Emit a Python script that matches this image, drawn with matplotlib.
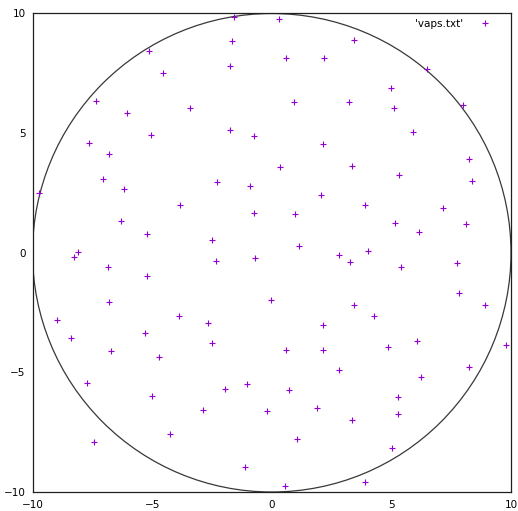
import numpy as np
import matplotlib
matplotlib.use("Agg")
import matplotlib.pyplot as plt
from matplotlib.patches import Circle

# eigenvalue positions (real part, imaginary part)
re_vals = [
    -5.13, -4.54, -7.35, -6.05, -3.42, -5.04, -7.64, -6.80, -1.58, 0.30,
    -1.66, 3.44, 0.59, 2.19, -1.74, 0.93, 3.23, -1.74, -0.74, 2.14,
    0.34, 3.35, 6.49, 4.99, 8.00, 5.11, 5.90, 8.25, 5.32, -7.05,
    -6.18, -9.73, -3.84, -6.30, -5.21, -8.10, -8.26, -6.85, -5.21, -6.80,
    -8.97, -3.88, -5.29, -2.28, -0.91, 2.06, -0.74, 0.97, -2.50, 1.13,
    2.81, 3.27, -2.33, -0.70, -0.03, 3.44, -2.67, 2.14, 8.37, 3.89,
    7.15, 5.15, 8.12, 6.15, 4.02, 5.40, 7.74, 7.82, 8.91, 4.27,
    -8.39, -6.72, -4.71, -7.72, -5.00, -4.25, -7.43, -2.50, 0.59, 2.14,
    2.81, -1.95, -1.03, 0.72, -2.88, -0.20, 1.89, 3.35, 1.06, -1.12,
    0.55, 4.86, 6.07, 9.79, 8.25, 6.24, 5.28, 5.28, 5.03, 3.89,
]
im_vals = [
    8.45, 7.53, 6.36, 5.86, 6.07, 4.94, 4.60, 4.14, 9.87, 9.79,
    8.83, 8.91, 8.16, 8.16, 7.82, 6.32, 6.32, 5.15, 4.90, 4.56,
    3.60, 3.64, 7.66, 6.90, 6.19, 6.03, 5.06, 3.93, 3.26, 3.10,
    2.68, 2.51, 2.01, 1.34, 0.79, 0.04, -0.17, -0.59, -0.96, -2.05,
    -2.80, -2.64, -3.35, 2.97, 2.80, 2.43, 1.67, 1.63, 0.54, 0.29,
    -0.08, -0.38, -0.33, -0.21, -1.97, -2.18, -2.93, -3.01, 3.01, 2.01,
    1.88, 1.26, 1.21, 0.88, 0.08, -0.59, -0.42, -1.67, -2.18, -2.64,
    -3.56, -4.10, -4.35, -5.44, -5.98, -7.57, -7.91, -3.77, -4.06, -4.06,
    -4.90, -5.69, -5.48, -5.73, -6.57, -6.61, -6.49, -6.99, -7.78, -8.95,
    -9.75, -3.93, -3.68, -3.85, -4.77, -5.19, -6.03, -6.74, -8.16, -9.58,
]
radius = 10.0
ticks = [-10, -5, 0, 5, 10]
series_label = "'vaps.txt'"

fig = plt.figure(figsize=(5.18, 5.11), dpi=100)
ax = fig.add_axes([32.5 / 518, 19 / 511, 478.5 / 518, 478.5 / 511])

ax.add_patch(Circle((0, 0), radius, fill=False, edgecolor="#383838", linewidth=0.9))
ax.plot(re_vals, im_vals, linestyle="none", marker="+", color="#9400D3",
        markersize=4.7, markeredgewidth=0.8, label=series_label)

ax.set_xlim(-10, 10)
ax.set_ylim(-10, 10)
ax.set_xticks(ticks)
ax.set_yticks(ticks)
ax.tick_params(length=0, labelsize=7.5, colors="black", pad=5.5)
ax.tick_params(axis="y", pad=5)
for sp in ax.spines.values():
    sp.set_linewidth(0.9)
    sp.set_edgecolor("#202020")

ax.legend(loc="upper right", bbox_to_anchor=(0.971, 0.997), borderaxespad=0,
          frameon=False, markerfirst=False, fontsize=7.5,
          handlelength=1.5, handletextpad=1.35)

fig.savefig("out.png", dpi=100)
